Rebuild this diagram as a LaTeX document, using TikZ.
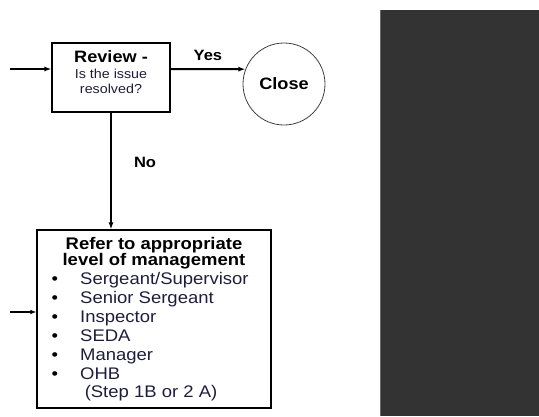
\documentclass[tikz,border=0pt]{standalone}
\usepackage{fontspec}
\setmainfont{Liberation Sans}[FakeStretch=1.1]
\usetikzlibrary{arrows.meta}
\definecolor{panelgrey}{HTML}{333333}
\definecolor{paneledge}{HTML}{6A6A6A}
\definecolor{itemnavy}{HTML}{1E1E3A}
\tikzset{
  stepbox/.style={draw, line width=1.1pt, inner sep=0pt},
  flow/.style={line width=2pt, -{Latex[length=7pt,width=5pt]}},
  thinflow/.style={line width=1.2pt, -{Latex[length=6pt,width=4.5pt]}},
  lbl/.style={font=\fontsize{15}{17}\selectfont\bfseries, inner sep=0pt},
}
\begin{document}
\begin{tikzpicture}[x=1pt,y=-1pt]
\useasboundingbox (0,0) rectangle (539,416);

% dark panel on the right
\fill[panelgrey] (380,10) rectangle (539,416);
\draw[paneledge, line width=1pt] (380.5,10) -- (380.5,416);

% Review step
\node[stepbox, minimum width=118pt, minimum height=69pt] (review) at (111,77.5) {};
\node[font=\fontsize{16.5}{18}\selectfont\bfseries, inner sep=0pt] (revtitle) at (111,57) {Review -};
\node[font=\fontsize{13}{15}\selectfont, text=itemnavy, align=center, inner sep=0pt] (revq) at (111,81.5) {Is the issue\\resolved?};

% Close
\node[draw, circle, line width=0.8pt, draw=black!75, minimum size=82pt, inner sep=0pt,
      font=\fontsize{16.5}{18}\selectfont\bfseries] (close) at (284,84) {Close};

% Refer step
\node[stepbox, minimum width=234pt, minimum height=178pt] (refer) at (154,319) {};
\node[font=\fontsize{16.8}{16.5}\selectfont\bfseries, align=center, inner sep=0pt] (refertitle) at (154,253) {Refer to appropriate\\level of management};
\node[font=\fontsize{16.8}{19}\selectfont, text=itemnavy, align=left, inner sep=0pt, anchor=west] (levels) at (51.5,325.5)
  {\makebox[28.5pt][l]{\textcolor{black}{•}}Sergeant/Supervisor\\
   \makebox[28.5pt][l]{\textcolor{black}{•}}Senior Sergeant\\
   \makebox[28.5pt][l]{\textcolor{black}{•}}Inspector\\
   \makebox[28.5pt][l]{\textcolor{black}{•}}SEDA\\
   \makebox[28.5pt][l]{\textcolor{black}{•}}Manager\\
   \makebox[28.5pt][l]{\textcolor{black}{•}}OHB};
\node[font=\fontsize{16.8}{19}\selectfont, text=itemnavy, inner sep=0pt] (stepref) at (151,393) {(Step 1B or 2 A)};

% connectors
\coordinate (in1) at (10,69);
\coordinate (in2) at (10,312);
\draw[flow] (in1) -- (in1 -| review.west);
\draw[flow] (in1 -| review.east) -- (close.159) node[lbl, midway, above=7pt] (yes) {Yes};
\draw[flow] (review.south) -- (review.south |- refer.north) node[lbl, pos=0.43, right=22pt] (no) {No};
\draw[thinflow] (in2) -- (in2 -| refer.west);

\end{tikzpicture}
\end{document}
